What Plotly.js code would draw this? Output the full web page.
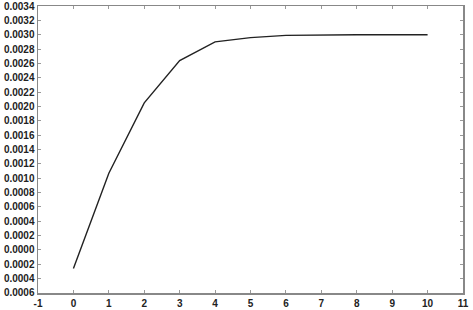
<!DOCTYPE html>
<html>
<head>
<meta charset="utf-8">
<script src="https://cdn.plot.ly/plotly-3.0.1.min.js"></script>
<style>html,body{margin:0;padding:0;background:#fff}#chart{width:473px;height:310px}</style>
</head>
<body>
<div id="chart"></div>
<script>
const xValues = [0, 1, 2, 3, 4, 5, 6, 7, 8, 9, 10];
const yValues = [-0.00026, 0.00107, 0.00205, 0.00264, 0.0029, 0.00296, 0.00299, 0.003, 0.003, 0.003, 0.003];
const yTickVals = [-0.0006, -0.0004, -0.0002, 0, 0.0002, 0.0004, 0.0006, 0.0008, 0.001, 0.0012, 0.0014, 0.0016, 0.0018, 0.002, 0.0022, 0.0024, 0.0026, 0.0028, 0.003, 0.0032, 0.0034];
const yTickText = ["0.0006", "0.0004", "0.0002", "0.0000", "0.0002", "0.0004", "0.0006", "0.0008", "0.0010", "0.0012", "0.0014", "0.0016", "0.0018", "0.0020", "0.0022", "0.0024", "0.0026", "0.0028", "0.0030", "0.0032", "0.0034"];
const xTickVals = [-1, 0, 1, 2, 3, 4, 5, 6, 7, 8, 9, 10, 11];
const xTickText = ["-1", "0", "1", "2", "3", "4", "5", "6", "7", "8", "9", "10", "11"];

const trace = {
  x: xValues, y: yValues, type: 'scatter', mode: 'lines',
  line: {color: '#222', width: 1.4}, hoverinfo: 'none'
};
const axisCommon = {
  showgrid: false, zeroline: false, showline: true, linecolor: '#888', linewidth: 1.5,
  mirror: 'ticks', ticks: 'inside', ticklen: 3, tickcolor: '#999', tickwidth: 1,
  ticklabeloverflow: 'allow',
  tickfont: {family: 'Liberation Sans, Arial, sans-serif', size: 10, color: '#222', weight: 'bold'}
};
const layout = {
  width: 473, height: 310,
  margin: {l: 38, r: 10, t: 6, b: 17},
  paper_bgcolor: '#fff', plot_bgcolor: '#fff',
  showlegend: false,
  xaxis: Object.assign({}, axisCommon, {range: [-1.0001, 11.0001], tickmode: 'array', tickvals: xTickVals, ticktext: xTickText}),
  yaxis: Object.assign({}, axisCommon, {range: [-0.0006001, 0.0034001], tickmode: 'array', tickvals: yTickVals, ticktext: yTickText})
};
Plotly.newPlot('chart', [trace], layout, {displayModeBar: false, staticPlot: true});
</script>
</body>
</html>
